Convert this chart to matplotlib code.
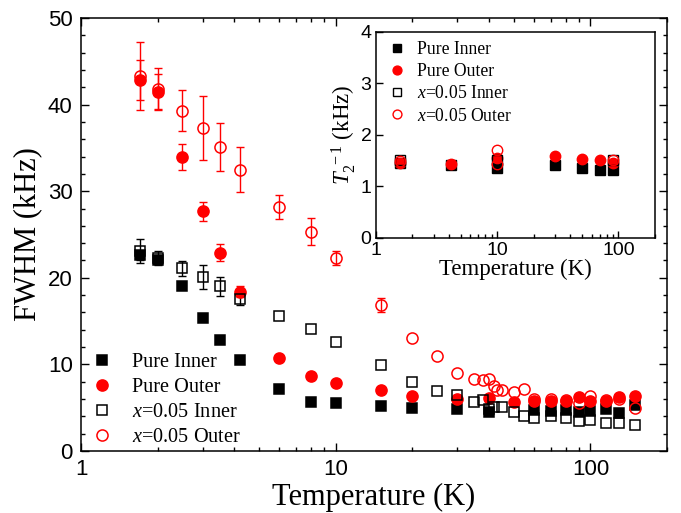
import numpy as np
import matplotlib
matplotlib.use("Agg")
import matplotlib.pyplot as plt
from matplotlib.ticker import FixedLocator, MultipleLocator, NullFormatter, LogLocator

plt.rcParams['font.family'] = ['Liberation Sans', 'DejaVu Sans']
plt.rcParams['mathtext.fontset'] = 'custom'
plt.rcParams['mathtext.rm'] = 'Liberation Serif'
plt.rcParams['mathtext.it'] = 'Liberation Serif:italic'

SERIF = ['Liberation Serif', 'DejaVu Serif']

# ---------------- main panel data (FWHM, kHz) ----------------
pi_T = [1.7, 2.0, 2.5, 3.0, 3.5, 4.2, 6, 8, 10, 15, 20, 30, 40, 60, 70, 80, 90, 100, 115, 130, 150]
pi_v = [22.6, 22.0, 19.1, 15.3, 12.8, 10.5, 7.2, 5.7, 5.5, 5.2, 5.0, 4.8, 4.55, 4.75, 4.65, 4.75, 4.5, 4.65, 4.85, 4.35, 5.3]
pi_e = [0.5, 0.4, 0, 0, 0, 0, 0, 0, 0, 0, 0, 0, 0, 0, 0, 0, 0, 0, 0, 0, 0]

po_T = [1.7, 2.0, 2.5, 3.0, 3.5, 4.2, 6, 8, 10, 15, 20, 30, 40, 50, 60, 70, 80, 90, 100, 115, 130, 150]
po_v = [42.8, 41.5, 34.0, 27.7, 22.9, 18.4, 10.7, 8.7, 7.9, 7.0, 6.4, 6.0, 6.15, 5.7, 5.8, 5.8, 5.8, 6.2, 5.8, 5.8, 6.2, 6.35]
po_e = [2.3, 2.0, 1.5, 1.1, 1.0, 0.6, 0, 0, 0, 0, 0, 0.5, 0, 0, 0, 0, 0, 0, 0, 0, 0, 0]

xi_T = [1.7, 2.0, 2.5, 3.0, 3.5, 4.2, 6, 8, 10, 15, 20, 25, 30, 35, 38, 40, 42, 45, 50, 55, 60, 70, 80, 90, 100, 115, 130, 150]
xi_v = [23.1, 22.25, 21.1, 20.1, 19.0, 17.6, 15.6, 14.05, 12.6, 9.9, 8.0, 6.95, 6.45, 5.6, 5.9, 4.8, 5.1, 5.05, 4.55, 4.05, 3.8, 4.05, 3.85, 3.45, 3.6, 3.25, 3.25, 3.05]
xi_e = [1.4, 0.8, 0.85, 1.35, 1.05, 0.7, 0, 0, 0, 0, 0, 0, 0, 0, 0, 0, 0, 0, 0, 0, 0, 0, 0, 0, 0, 0, 0, 0]

xo_T = [1.7, 2.0, 2.5, 3.0, 3.5, 4.2, 6, 8, 10, 15, 20, 25, 30, 35, 38, 40, 42, 43, 45, 50, 55, 60, 70, 80, 90, 100, 115, 130, 150]
xo_v = [43.3, 41.8, 39.3, 37.3, 35.1, 32.5, 28.2, 25.3, 22.3, 16.9, 13.0, 11.0, 9.0, 8.3, 8.2, 8.35, 7.55, 7.05, 7.05, 6.85, 7.2, 5.95, 5.95, 5.9, 5.5, 6.3, 5.9, 5.95, 5.0]
xo_e = [3.9, 2.4, 2.4, 3.7, 2.8, 2.6, 1.4, 1.55, 0.8, 0.8, 0, 0, 0, 0, 0, 0, 0, 0, 0, 0, 0, 0, 0, 0, 0, 0, 0, 0, 0]

labels = ['Pure Inner', 'Pure Outer', '$x$=0.05 Inner', '$x$=0.05 Outer']

# ---------------- inset data (T2^-1, kHz) ----------------
ipi_T = [1.6, 4.2, 10, 30, 50, 70, 90]
ipi_v = [1.45, 1.42, 1.35, 1.41, 1.36, 1.32, 1.32]
ipo_T = [1.6, 4.2, 10, 30, 50, 70, 90]
ipo_v = [1.46, 1.43, 1.55, 1.58, 1.52, 1.51, 1.46]
ixi_T = [1.6, 10, 90]
ixi_v = [1.50, 1.51, 1.51]
ixo_T = [1.6, 10, 10, 90]
ixo_v = [1.49, 1.70, 1.43, 1.50]

fig = plt.figure(figsize=(6.81, 5.13), dpi=100)
ax = fig.add_axes([0.119, 0.1209, 0.8605, 0.844])

styles = [
    dict(marker='s', color='black', mfc='black', ms=7.2),
    dict(marker='o', color='red', mfc='red', ms=8.0),
    dict(marker='s', color='black', mfc='none', ms=7.2),
    dict(marker='o', color='red', mfc='none', ms=8.0),
]
series = [(pi_T, pi_v, pi_e), (po_T, po_v, po_e), (xi_T, xi_v, xi_e), (xo_T, xo_v, xo_e)]

handles = []
for (T, v, e), st, lab in zip(series, styles, labels):
    T = np.array(T); v = np.array(v); e = np.array(e)
    m = e > 0
    if m.any():
        ax.errorbar(T[m], v[m], yerr=e[m], fmt='none', ecolor=st['color'],
                    elinewidth=1.0, capsize=3.2, capthick=1.0, zorder=2)
    h, = ax.plot(T, v, ls='none', marker=st['marker'], ms=st['ms'],
                 mfc=st['mfc'], mec=st['color'], mew=1.1, label=lab, zorder=3)
    handles.append(h)

ax.set_xscale('log')
ax.set_xlim(1, 200)
ax.set_ylim(0, 50)
ax.yaxis.set_major_locator(MultipleLocator(10))
ax.yaxis.set_minor_locator(MultipleLocator(2))
ax.xaxis.set_major_locator(FixedLocator([1, 10, 100]))
ax.xaxis.set_minor_locator(LogLocator(base=10, subs=np.arange(2, 10)))
ax.xaxis.set_minor_formatter(NullFormatter())
ax.set_xticklabels(['1', '10', '100'])
ax.tick_params(which='both', direction='in', top=True, right=True, width=1.0)
ax.tick_params(which='major', length=5.5, labelsize=16, pad=6)
ax.tick_params(which='minor', length=3.2)
for s in ax.spines.values():
    s.set_linewidth(1.1)
ax.set_xlabel('Temperature (K)', fontsize=22, family=SERIF, labelpad=2)
ax.set_ylabel('FWHM (kHz)', fontsize=22, family=SERIF, labelpad=4)

leg = ax.legend(handles=handles, loc='lower left', bbox_to_anchor=(0.012, 0.0),
                frameon=False, prop={'family': SERIF, 'size': 14.6},
                handlelength=1.0, handletextpad=0.95, labelspacing=0.28,
                borderpad=0.2, borderaxespad=0.0, numpoints=1)

# ---------------- inset ----------------
ins = fig.add_axes([0.5517, 0.5366, 0.4101, 0.4016])
ins.set_facecolor('white')
istyles = [
    dict(marker='s', color='black', mfc='black', ms=7.0),
    dict(marker='o', color='red', mfc='red', ms=7.5),
    dict(marker='s', color='black', mfc='none', ms=7.0),
    dict(marker='o', color='red', mfc='none', ms=7.5),
]
iseries = [(ipi_T, ipi_v), (ipo_T, ipo_v), (ixi_T, ixi_v), (ixo_T, ixo_v)]
ihandles = []
for (T, v), st, lab in zip(iseries, istyles, labels):
    h, = ins.plot(T, v, ls='none', marker=st['marker'], ms=st['ms'],
                  mfc=st['mfc'], mec=st['color'], mew=1.0, label=lab)
    ihandles.append(h)
ins.set_xscale('log')
ins.set_xlim(1, 200)
ins.set_ylim(0, 4)
ins.yaxis.set_major_locator(MultipleLocator(1))
ins.xaxis.set_major_locator(FixedLocator([1, 10, 100]))
ins.xaxis.set_minor_locator(LogLocator(base=10, subs=np.arange(2, 10)))
ins.xaxis.set_minor_formatter(NullFormatter())
ins.set_xticklabels(['1', '10', '100'])
ins.tick_params(which='both', direction='in', width=1.0)
ins.tick_params(which='major', length=5, labelsize=14, pad=3)
ins.tick_params(which='minor', length=3)
for s in ins.spines.values():
    s.set_linewidth(1.1)
ins.set_xlabel('Temperature (K)', fontsize=16.5, family=SERIF, labelpad=0)
ins.set_ylabel('$T_2^{\\ -1}$ (kHz)', fontsize=16.5, family=SERIF, labelpad=2)
ins.legend(handles=ihandles, loc='upper left', bbox_to_anchor=(0.04, 0.965),
           frameon=False, prop={'family': SERIF, 'size': 12.7},
           handlelength=1.0, handletextpad=0.6, labelspacing=0.3,
           borderpad=0.1, borderaxespad=0.0, numpoints=1, markerscale=0.85)

fig.savefig('out.png', dpi=100)
